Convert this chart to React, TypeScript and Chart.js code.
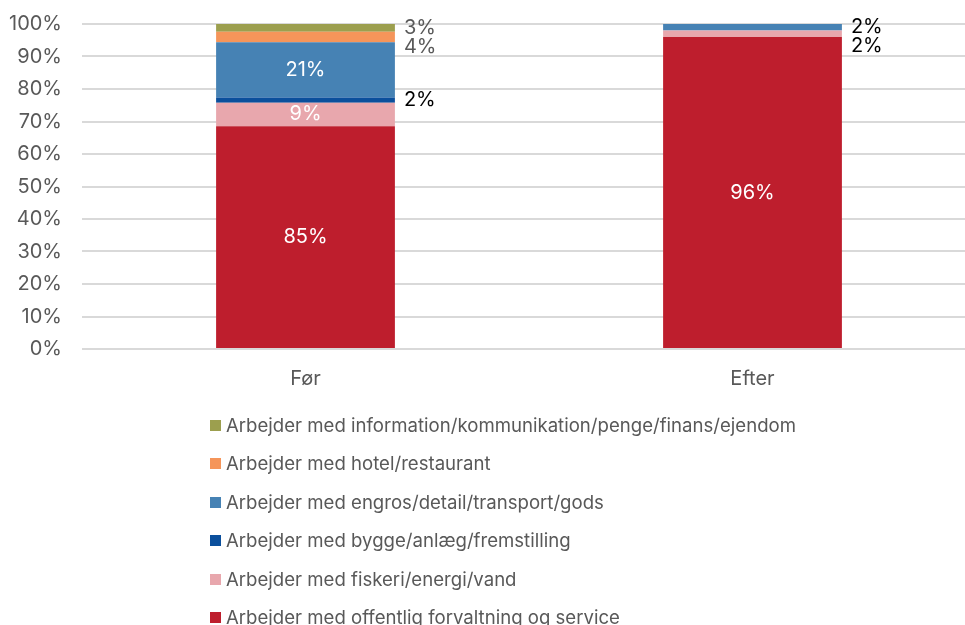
import React, { useEffect, useRef } from "react";
import { Chart, registerables } from "chart.js";

Chart.register(...registerables);

// ---- Data ----
const categories = ["Før", "Efter"];
const seriesNames = [
  "Arbejder med offentlig forvaltning og service",
  "Arbejder med fiskeri/energi/vand",
  "Arbejder med bygge/anlæg/fremstilling",
  "Arbejder med engros/detail/transport/gods",
  "Arbejder med hotel/restaurant",
  "Arbejder med information/kommunikation/penge/finans/ejendom",
];
const offentlig = [85, 96];
const fiskeri = [9, 2];
const bygge = [2, 0];
const engros = [21, 2];
const hotel = [4, 0];
const information = [3, 0];
const yTicks = [0, 10, 20, 30, 40, 50, 60, 70, 80, 90, 100];

// ---- Styles ----
const colors = ["#BE1E2D", "#E8A7AD", "#0B4F9C", "#4682B4", "#F5955A", "#9C9F4E"];
const outsideColors = ["#000000", "#000000", "#000000", "#000000", "#595959", "#595959"];
const FONT = "Inter, 'Noto Sans', sans-serif";
const TEXT = "#595959";

const rawSeries = [offentlig, fiskeri, bygge, engros, hotel, information];
const totals = categories.map((_, i) => rawSeries.reduce((s, arr) => s + arr[i], 0));
const normalized = rawSeries.map((arr) => arr.map((v, i) => (v / totals[i]) * 100));

const labelPlugin = {
  id: "segLabels",
  afterDatasetsDraw(chart: any) {
    const ctx = chart.ctx;
    ctx.save();
    ctx.font = `20px ${FONT}`;
    ctx.textBaseline = "middle";
    const outside: Record<number, any[]> = {};
    chart.data.datasets.forEach((_ds: any, di: number) => {
      const meta = chart.getDatasetMeta(di);
      meta.data.forEach((el: any, i: number) => {
        const raw = rawSeries[di][i];
        if (!raw) return;
        const { x, y, base, width } = el.getProps(["x", "y", "base", "width"], true);
        const h = base - y;
        const text = raw + "%";
        const cy = (y + base) / 2;
        if (h >= 20) {
          ctx.fillStyle = "#ffffff";
          ctx.textAlign = "center";
          ctx.fillText(text, x, cy);
        } else {
          (outside[i] = outside[i] || []).push({ x: x + width / 2 + 9, y: cy, text, color: outsideColors[di] });
        }
      });
    });
    Object.values(outside).forEach((list) => {
      list.sort((a, b) => a.y - b.y);
      let prev = -Infinity;
      list.forEach((l) => {
        if (l.y < prev + 19) l.y = prev + 19;
        prev = l.y;
        ctx.fillStyle = l.color;
        ctx.textAlign = "left";
        ctx.fillText(l.text, l.x, l.y);
      });
    });
    ctx.restore();
  },
};

export default function App() {
  const ref = useRef<HTMLCanvasElement | null>(null);
  useEffect(() => {
    if (!ref.current) return;
    const chart = new Chart(ref.current, {
      type: "bar",
      data: {
        labels: categories,
        datasets: seriesNames.map((name, di) => ({
          label: name,
          data: normalized[di],
          backgroundColor: colors[di],
          borderWidth: 0,
          barPercentage: 0.4,
          categoryPercentage: 1,
        })),
      },
      options: {
        responsive: false,
        animation: false,
        layout: { padding: { top: 24, right: 4, left: 0, bottom: 0 } },
        plugins: {
          legend: { display: false },
          tooltip: { enabled: false },
        },
        scales: {
          x: {
            stacked: true,
            grid: { display: false, drawTicks: false },
            border: { display: false },
            ticks: { color: TEXT, font: { family: FONT, size: 20 }, padding: 18 },
            afterFit: (s: any) => {
              s.height = 276;
            },
          },
          y: {
            stacked: true,
            min: 0,
            max: 100,
            grid: { color: "#D9D9D9", lineWidth: 2, drawTicks: false },
            border: { display: false },
            ticks: {
              color: TEXT,
              font: { family: FONT, size: 20 },
              padding: 20,
              callback: (v: any) => v + "%",
            },
            afterBuildTicks: (s: any) => {
              s.ticks = yTicks.map((v) => ({ value: v }));
            },
            afterFit: (s: any) => {
              s.width = 82;
              s.paddingTop = 0;
              s.paddingBottom = 0;
            },
          },
        },
      },
      plugins: [labelPlugin],
    });
    return () => chart.destroy();
  }, []);

  const legendOrder = [5, 4, 3, 2, 1, 0];
  return (
    <div style={{ position: "absolute", left: 0, top: 0, width: 965, height: 625, overflow: "hidden", background: "#fff" }}>
      <canvas ref={ref} width={980} height={625} style={{ width: 980, height: 625, display: "block" }} />
      <div style={{ position: "absolute", left: 210, top: 405.75, fontFamily: FONT, fontSize: 18.6, color: TEXT }}>
        {legendOrder.map((di) => (
          <div key={di} style={{ height: 38.5, lineHeight: "38.5px", display: "flex", alignItems: "center", whiteSpace: "nowrap" }}>
            <span style={{ display: "inline-block", width: 11, height: 11, background: colors[di], marginRight: 5, flexShrink: 0 }} />
            <span>{seriesNames[di]}</span>
          </div>
        ))}
      </div>
    </div>
  );
}
